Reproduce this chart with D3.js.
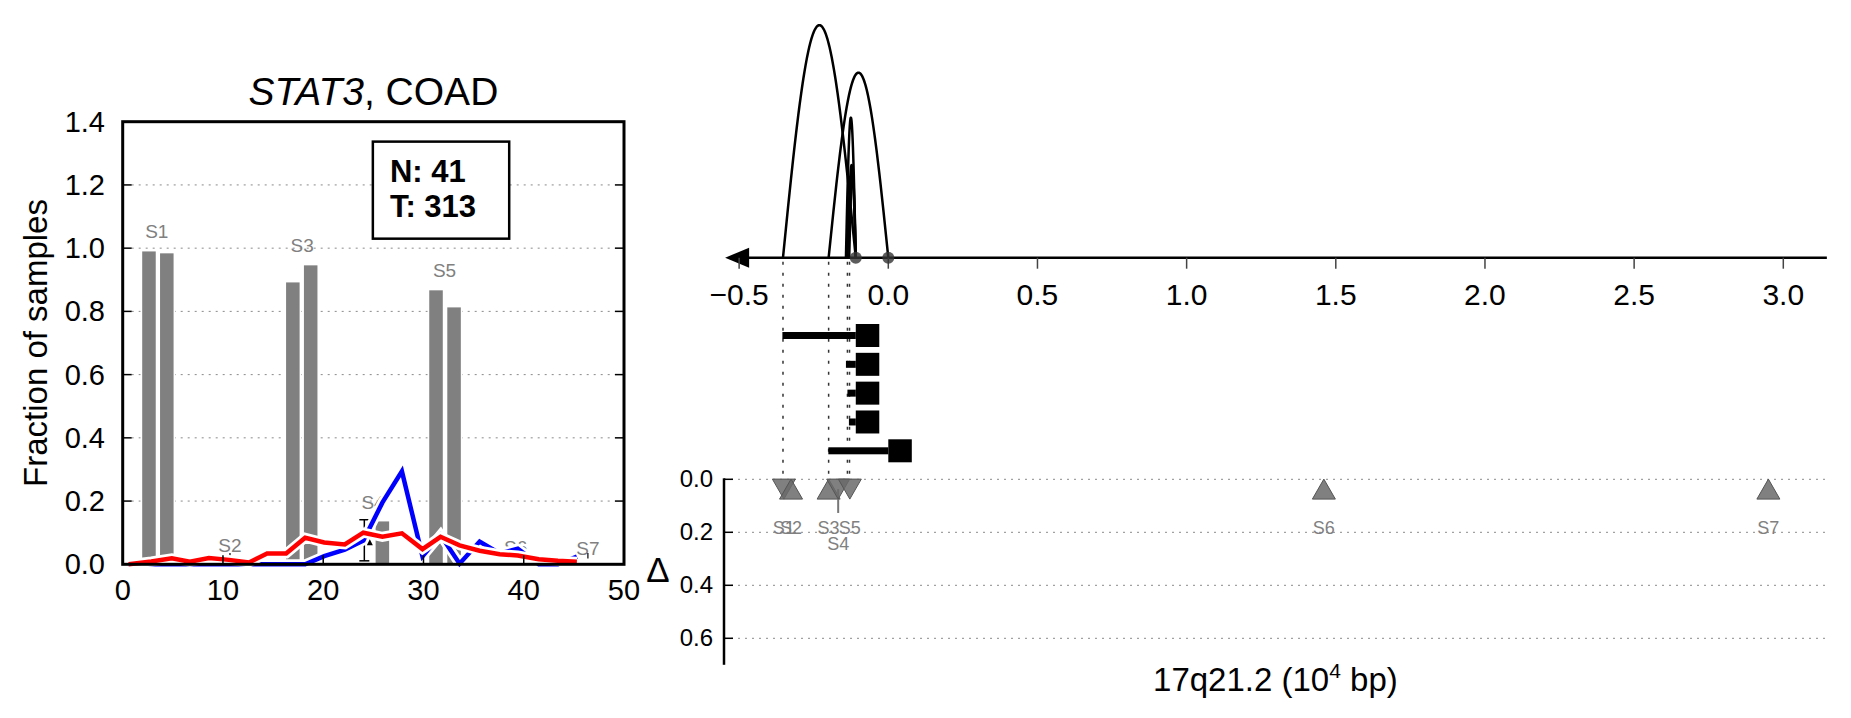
<!DOCTYPE html>
<html><head><meta charset="utf-8">
<script src="https://cdn.jsdelivr.net/npm/d3@7"></script>
<style>body{margin:0;background:#fff}svg{display:block;font-family:"Liberation Sans",Arial,Helvetica,sans-serif}</style>
</head><body><svg id="c" width="1851" height="718"></svg>
<script>
// ================= DATA =================
// left panel: coverage profile along the gene
const binX       = [0.6,2.85,4.9,6.7,8.6,10.6,12.6,14.4,16.3,18.2,20.1,22.15,24.0,25.9,27.85,29.9,31.7,33.6,35.6,37.6,39.4,41.5,43.4,45.3];
const tumorFrac  = [0.0,0.009,0.019,0.008,0.02,0.014,0.006,0.034,0.034,0.084,0.069,0.063,0.10,0.087,0.098,0.048,0.087,0.06,0.043,0.032,0.028,0.016,0.011,0.008];
const normalFrac = [0,0,0,0,0,0,0,0,0,0,0.026,0.046,0.075,0.195,0.294,0.025,0.093,0.002,0.072,0.034,0.049,0,0,0.024];
const barX   = [2.62,4.4,16.97,18.75,24.05,25.9,31.25,33.05];
const barVal = [0.992,0.986,0.894,0.948,0.006,0.138,0.869,0.815];
const siteNames  = ["S1","S2","S3","S4","S5","S6","S7"];
const siteLabelX = [3.4,10.7,17.9,24.97,32.1,39.2,46.4];
const siteLabelY = [1.055,0.062,1.01,0.198,0.93,0.054,0.052];
const siteTickX  = [10.7,39.3,46.4];
const errX = [24.1], errLo = [0.011], errHi = [0.141];
const errMarkX = [24.65], errMarkY = [0.07];
const xTicksL = [0,10,20,30,40,50];
const yTicksL = [0,0.2,0.4,0.6,0.8,1.0,1.2,1.4];
const gridL   = [0.2,0.4,0.6,0.8,1.0,1.2];
const countLabels = ["N: 41","T: 313"];

// right panel: genomic coordinate (10^4 bp)
const xTicksR = [-0.5,0,0.5,1.0,1.5,2.0,2.5,3.0];
const axisExtent = [-0.547, 3.146];
const arcStart  = [-0.353,-0.2,-0.142,-0.137,-0.131];
const arcEnd    = [-0.109, 0.0,-0.109,-0.109,-0.109];
const arcWeight = [93, 74, 56, 37, 34];
const junctionDots = [-0.109, 0.0];
const guideX = [-0.353,-0.2,-0.137,-0.13];
const rowStart = [-0.355,-0.142,-0.137,-0.132,-0.201];
const rowEnd   = [-0.109,-0.109,-0.109,-0.109,0.0];
const sitePos   = [-0.350,-0.326,-0.2,-0.168,-0.129,1.46,2.95];
const siteDelta = [0.037,0.037,0.037,0.037,0.037,0.037,0.037];
const siteDir   = ["down","up","up","down","down","up","up"];
const siteErrHi = [null,null,null,0.127,null,null,null];
const siteLabelRow = [0,0,0,1,0,0,0];
const deltaTicks = [0,0.2,0.4,0.6];

// ================= DRAW =================
const svg = d3.select("#c");
const fmt1 = d3.format(".1f");

// ---------- LEFT PANEL ----------
const xL = d3.scaleLinear().domain([0,50]).range([122.7,624]);
const yL = d3.scaleLinear().domain([0,1.4]).range([564.3,121.7]);
const gL = svg.append("g");

gL.selectAll(".gridL").data(gridL).join("line")
  .attr("x1", xL(0)+9).attr("x2", xL(50)-9)
  .attr("y1", d=>yL(d)).attr("y2", d=>yL(d))
  .attr("stroke","#8a8a8a").attr("stroke-width",1).attr("stroke-dasharray","2,5");

const bw = xL(1.5)-xL(0);
gL.selectAll(".bar").data(barX).join("rect")
  .attr("x", d=>xL(d)-bw/2).attr("width", bw)
  .attr("y", (d,i)=>yL(barVal[i])).attr("height", (d,i)=>yL(0)-yL(barVal[i]))
  .attr("fill","#808080").attr("stroke","#fff").attr("stroke-width",1.5);

gL.selectAll(".slab").data(siteLabelX).join("text")
  .attr("x", d=>xL(d)).attr("y", (d,i)=>yL(siteLabelY[i])+7)
  .attr("text-anchor","middle").attr("font-size",19).attr("fill","#808080")
  .text((d,i)=>siteNames[i]);

gL.selectAll(".stick").data(siteTickX).join("line")
  .attr("x1", d=>xL(d)).attr("x2", d=>xL(d))
  .attr("y1", yL(0.018)).attr("y2", yL(0.036))
  .attr("stroke","#000").attr("stroke-width",1.2);

// error bar
errX.forEach((x,i)=>{
  const cx = xL(x);
  gL.append("line").attr("x1",cx).attr("x2",cx).attr("y1",yL(errLo[i])).attr("y2",yL(errHi[i]))
    .attr("stroke","#000").attr("stroke-width",1.5);
  [errLo[i],errHi[i]].forEach(v=>{
    gL.append("line").attr("x1",cx-5).attr("x2",cx+5).attr("y1",yL(v)).attr("y2",yL(v))
      .attr("stroke","#000").attr("stroke-width",1.5);
  });
});

const lineL = d3.line().x((d,i)=>xL(binX[i])).y(d=>yL(d));
[[normalFrac,"#0000ff"],[tumorFrac,"#ff0000"]].forEach(([arr,col])=>{
  gL.append("path").attr("d", lineL(arr)).attr("fill","none")
    .attr("stroke","#fff").attr("stroke-width",10).attr("stroke-linejoin","miter");
  gL.append("path").attr("d", lineL(arr)).attr("fill","none")
    .attr("stroke",col).attr("stroke-width",4.5).attr("stroke-linejoin","miter");
});

// small marker near error bar
errMarkX.forEach((x,i)=>{
  const cx=xL(x), cy=yL(errMarkY[i]);
  gL.append("path").attr("d",`M${cx},${cy-3}L${cx+3},${cy+3}L${cx-3},${cy+3}Z`).attr("fill","#000");
});

// ticks
gL.selectAll(".ytl").data(yTicksL).join("line")
  .attr("x1", xL(0)).attr("x2", xL(0)+9).attr("y1", d=>yL(d)).attr("y2", d=>yL(d))
  .attr("stroke","#000").attr("stroke-width",1.5);
gL.selectAll(".ytr").data(yTicksL).join("line")
  .attr("x1", xL(50)-9).attr("x2", xL(50)).attr("y1", d=>yL(d)).attr("y2", d=>yL(d))
  .attr("stroke","#000").attr("stroke-width",1.5);
gL.selectAll(".xt").data(xTicksL).join("line")
  .attr("x1", d=>xL(d)).attr("x2", d=>xL(d)).attr("y1", yL(0)).attr("y2", yL(0)-9)
  .attr("stroke","#000").attr("stroke-width",1.5);

gL.append("rect").attr("x",xL(0)).attr("y",yL(1.4)).attr("width",xL(50)-xL(0)).attr("height",yL(0)-yL(1.4))
  .attr("fill","none").attr("stroke","#000").attr("stroke-width",3);

gL.selectAll(".ylab").data(yTicksL).join("text")
  .attr("x",105).attr("y",d=>yL(d)+10).attr("text-anchor","end").attr("font-size",29)
  .text(d=>fmt1(d));
gL.selectAll(".xlab").data(xTicksL).join("text")
  .attr("x",d=>xL(d)).attr("y",600).attr("text-anchor","middle").attr("font-size",29)
  .text(d=>d);

gL.append("text").attr("transform","translate(47,343) rotate(-90)").attr("text-anchor","middle")
  .attr("font-size",33).text("Fraction of samples");

const title = gL.append("text").attr("x",(xL(0)+xL(50))/2).attr("y",105).attr("text-anchor","middle").attr("font-size",39);
title.append("tspan").attr("font-style","italic").text("STAT3");
title.append("tspan").text(", COAD");

// count box
gL.append("rect").attr("x",xL(24.95)).attr("y",yL(1.337)).attr("width",xL(38.55)-xL(24.95)).attr("height",yL(1.03)-yL(1.337))
  .attr("fill","#fff").attr("stroke","#000").attr("stroke-width",2.5);
gL.selectAll(".cnt").data(countLabels).join("text")
  .attr("x", xL(26.65)).attr("y",(d,i)=>182+i*35).attr("font-size",31).attr("font-weight","bold")
  .text(d=>d);

// ---------- RIGHT PANEL ----------
const xR = d3.scaleLinear().domain([0,3]).range([888.3,1783.3]);
const axisY = 257.7;
const hR = d3.scaleLinear().domain([0,100]).range([0,250]);
const yD = d3.scaleLinear().domain([0,0.7]).range([479.3,664.8]);
const rowY = d3.scalePoint().domain(d3.range(rowStart.length)).range([335.5,450.8]);
const gR = svg.append("g");

// bottom grid
gR.selectAll(".gridD").data(deltaTicks).join("line")
  .attr("x1",724).attr("x2",xR(axisExtent[1])).attr("y1",d=>yD(d)).attr("y2",d=>yD(d))
  .attr("stroke","#8a8a8a").attr("stroke-width",1).attr("stroke-dasharray","2,5");

// guide dotted lines
gR.selectAll(".guide").data(guideX).join("line")
  .attr("x1",d=>xR(d)).attr("x2",d=>xR(d)).attr("y1",axisY+4).attr("y2",yD(0))
  .attr("stroke","#333").attr("stroke-width",1.5).attr("stroke-dasharray","3,8");

// arcs
const arcLine = d3.line().x(d=>d[0]).y(d=>d[1]);
arcStart.forEach((s,i)=>{
  const e = arcEnd[i], h = hR(arcWeight[i]);
  const pts = d3.range(0,1.0001,0.01).map(t=>[xR(s+(e-s)*t), axisY - h*Math.sin(Math.PI*t)]);
  gR.append("path").attr("d",arcLine(pts)).attr("fill","none").attr("stroke","#000").attr("stroke-width",2.5);
});

// axis line + arrow
gR.append("line").attr("x1",xR(axisExtent[0])+10).attr("x2",xR(axisExtent[1])).attr("y1",axisY).attr("y2",axisY)
  .attr("stroke","#000").attr("stroke-width",2.5);
const ax0 = xR(axisExtent[0]);
gR.append("path").attr("d",`M${ax0},${axisY}L${ax0+24},${axisY-10}L${ax0+24},${axisY+10}Z`).attr("fill","#000");
gR.selectAll(".xtR").data(xTicksR).join("line")
  .attr("x1",d=>xR(d)).attr("x2",d=>xR(d)).attr("y1",axisY).attr("y2",axisY+11)
  .attr("stroke","#444").attr("stroke-width",1.5);
gR.selectAll(".xlR").data(xTicksR).join("text")
  .attr("x",d=>xR(d)).attr("y",305).attr("text-anchor","middle").attr("font-size",30)
  .text(d=>fmt1(d));

// junction dots
gR.selectAll(".jd").data(junctionDots).join("circle")
  .attr("cx",d=>xR(d)).attr("cy",axisY).attr("r",6)
  .attr("fill","#333").attr("fill-opacity",0.8);

// rows
rowStart.forEach((s,i)=>{
  const y = rowY(i);
  gR.append("rect").attr("x",xR(s)).attr("y",y-3.5).attr("width",xR(rowEnd[i])-xR(s)).attr("height",7).attr("fill","#000");
  gR.append("rect").attr("x",xR(rowEnd[i])).attr("y",y-11.5).attr("width",23.5).attr("height",23).attr("fill","#000");
});

// delta axis
gR.append("line").attr("x1",724).attr("x2",724).attr("y1",yD(0)-1).attr("y2",yD(0.7)).attr("stroke","#000").attr("stroke-width",2.5);
gR.selectAll(".dt").data(deltaTicks).join("line")
  .attr("x1",724).attr("x2",733).attr("y1",d=>yD(d)).attr("y2",d=>yD(d)).attr("stroke","#000").attr("stroke-width",1.5);
gR.selectAll(".dl").data(deltaTicks).join("text")
  .attr("x",713).attr("y",d=>yD(d)+8).attr("text-anchor","end").attr("font-size",24)
  .text(d=>fmt1(d));
gR.append("text").attr("x",658).attr("y",582).attr("text-anchor","middle").attr("font-size",35).text("Δ");

// site markers
sitePos.forEach((p,i)=>{
  const cx = xR(p), cy = yD(siteDelta[i]);
  if (siteErrHi[i] !== null) {
    gR.append("line").attr("x1",cx).attr("x2",cx).attr("y1",cy).attr("y2",yD(siteErrHi[i]))
      .attr("stroke","#777").attr("stroke-width",2);
  }
  const d = siteDir[i]==="up"
    ? `M${cx},${cy-10}L${cx+11.5},${cy+10}L${cx-11.5},${cy+10}Z`
    : `M${cx},${cy+10}L${cx+11.5},${cy-10}L${cx-11.5},${cy-10}Z`;
  gR.append("path").attr("d",d).attr("fill","#6a6a6a").attr("fill-opacity",0.85)
    .attr("stroke","#555").attr("stroke-width",1);
  gR.append("text").attr("x",cx).attr("y",yD(0.195)+3+siteLabelRow[i]*16)
    .attr("text-anchor","middle").attr("font-size",18).attr("fill","#808080").text(siteNames[i]);
});

// x label
const xl = gR.append("text").attr("x",(724+xR(axisExtent[1]))/2).attr("y",691).attr("text-anchor","middle").attr("font-size",33);
xl.append("tspan").text("17q21.2 (10");
xl.append("tspan").attr("font-size",21).attr("dy",-13).text("4");
xl.append("tspan").attr("dy",13).text(" bp)");
</script></body></html>
